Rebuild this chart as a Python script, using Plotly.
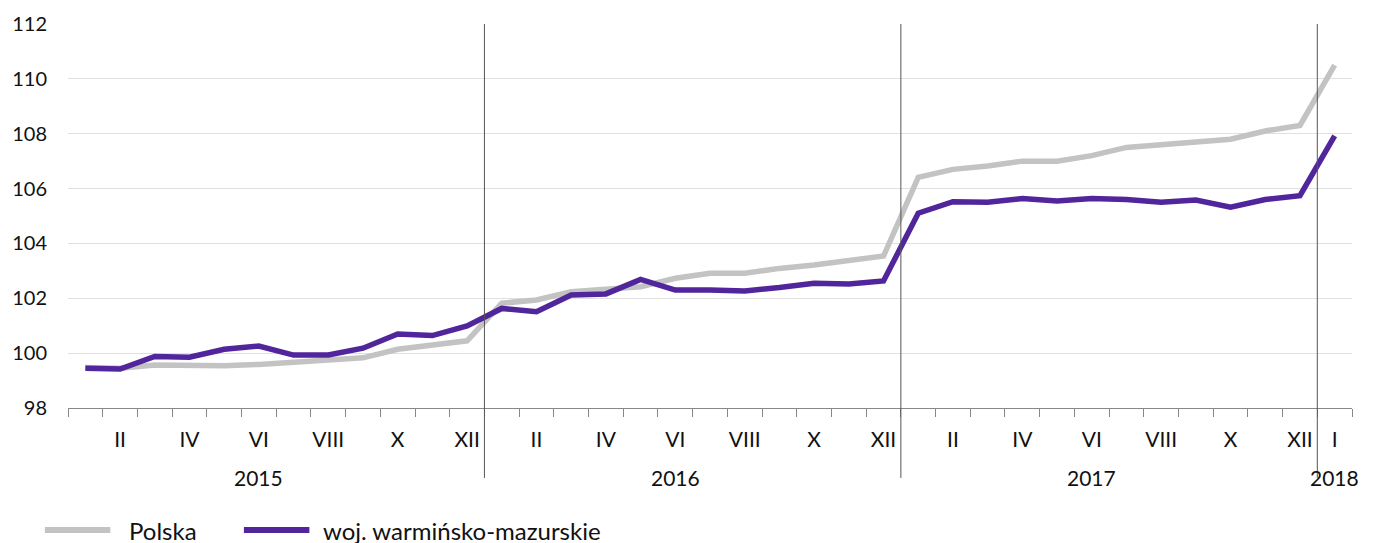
import plotly.graph_objects as go

months = ["I", "II", "III", "IV", "V", "VI", "VII", "VIII", "IX", "X", "XI", "XII"]
categories = [f"{m} {y}" for y in (2015, 2016, 2017) for m in months] + ["I 2018"]
years = ["2015", "2016", "2017", "2018"]
year_label_idx = [5, 17, 29, 36]
year_breaks = [11.5, 23.5, 35.5]
series_names = ["Polska", "woj. warmińsko-mazurskie"]
series_colors = ["#c3c3c3", "#51259b"]

polska = [99.48, 99.45, 99.57, 99.54, 99.54, 99.59, 99.67, 99.73, 99.83, 100.14, 100.3, 100.45,
          101.82, 101.94, 102.24, 102.33, 102.42, 102.73, 102.91, 102.91, 103.09, 103.21, 103.4, 103.54,
          106.41, 106.7, 106.82, 107.0, 107.0, 107.2, 107.5, 107.6, 107.7, 107.8, 108.1, 108.3,
          110.5]
warm_maz = [99.45, 99.42, 99.88, 99.85, 100.14, 100.26, 99.93, 99.93, 100.18, 100.7, 100.64, 100.99,
            101.63, 101.51, 102.12, 102.16, 102.69, 102.3, 102.3, 102.27, 102.39, 102.55, 102.52, 102.63,
            105.1, 105.52, 105.5, 105.64, 105.55, 105.64, 105.6, 105.5, 105.58, 105.32, 105.6, 105.74,
            107.92]

x = list(range(len(categories)))
month_labels = [c.split(" ")[0] for c in categories]
tickvals = [i for i in x if i % 2 == 1] + [36]
ticktext = [month_labels[i] for i in tickvals]

FONT = "Lato"
fig = go.Figure()
for name, vals, col in zip(series_names, [polska, warm_maz], series_colors):
    fig.add_trace(go.Scatter(x=x, y=vals, mode="lines", name=name,
                             line=dict(color=col, width=5.5), showlegend=False))

for b in year_breaks:
    fig.add_shape(type="line", xref="x", yref="paper", x0=b, x1=b, y0=-0.182, y1=1,
                  line=dict(color="#555555", width=1))

for idx, yl in zip(year_label_idx, years):
    fig.add_annotation(x=idx, xref="x", y=-0.18, yref="paper", text=yl, showarrow=False,
                       font=dict(family=FONT, size=21, color="#111111"), yanchor="middle")

# manual legend (paper coordinates)
leg_y = -0.318
leg_items = [(-0.018, 0.033, 0.046), (0.137, 0.188, 0.197)]
for (x0, x1, xt), name, col in zip(leg_items, series_names, series_colors):
    fig.add_shape(type="line", xref="paper", yref="paper", x0=x0, x1=x1, y0=leg_y, y1=leg_y,
                  line=dict(color=col, width=6))
    fig.add_annotation(x=xt, xref="paper", y=leg_y, yref="paper", text=name, showarrow=False,
                       xanchor="left", yanchor="middle",
                       font=dict(family=FONT, size=24, color="#111111"))

fig.update_layout(
    width=1359, height=543,
    margin=dict(l=60, r=15, t=16, b=143, autoexpand=False),
    plot_bgcolor="white", paper_bgcolor="white",
    font=dict(family=FONT, size=20, color="#111111"),
    showlegend=False,
    xaxis=dict(range=[-0.5, 36.5], tickvals=tickvals, ticktext=ticktext, ticks="",
               tickfont=dict(size=21),
               showgrid=False, zeroline=False, showline=True, linecolor="#888888", linewidth=1,
               ticklabelstandoff=13, automargin=False,
               minor=dict(tickmode="linear", tick0=-0.5, dtick=1, ticks="outside", ticklen=8,
                          tickcolor="#888888", tickwidth=1, showgrid=False)),
    yaxis=dict(range=[98, 112], dtick=2, tick0=98, showgrid=True, gridcolor="#e0e0e0",
               gridwidth=1, zeroline=False, ticks="", ticklabelstandoff=20, automargin=False),
)

fig.write_html("out.html")
